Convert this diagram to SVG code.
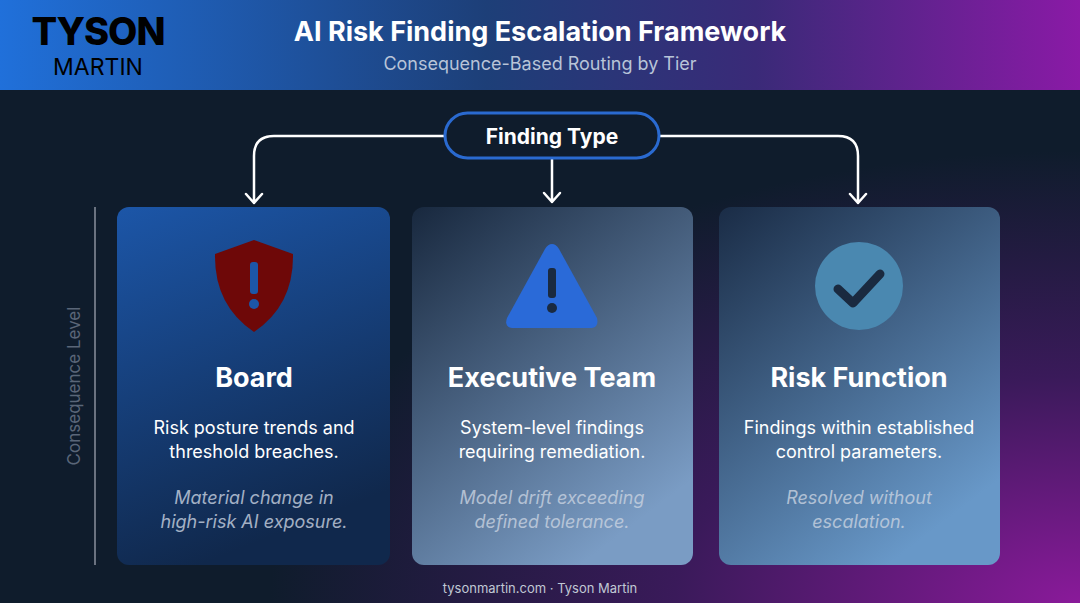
<svg xmlns="http://www.w3.org/2000/svg" width="1080" height="603" viewBox="0 0 1080 603">
<defs>
<linearGradient id="hdr" x1="0" y1="0" x2="1" y2="0"><stop offset="0" stop-color="#2070da"/><stop offset="0.45" stop-color="#1d3f78"/><stop offset="0.7" stop-color="#3a2a78"/><stop offset="1" stop-color="#8a1aa6"/></linearGradient>
<radialGradient id="bg" cx="1" cy="1" r="0.75"><stop offset="0" stop-color="#8a1a9a"/><stop offset="0.5" stop-color="#3a1a5a"/><stop offset="1" stop-color="#0f1c2c"/></radialGradient>
<linearGradient id="c1" x1="0" y1="0" x2="0.3" y2="1"><stop offset="0" stop-color="#1c56a8"/><stop offset="1" stop-color="#10284c"/></linearGradient>
<linearGradient id="c2" x1="0" y1="0" x2="0.6" y2="1"><stop offset="0" stop-color="#18283e"/><stop offset="1" stop-color="#7a9cc4"/></linearGradient>
<linearGradient id="c3" x1="0" y1="0" x2="0.6" y2="1"><stop offset="0" stop-color="#1a2c46"/><stop offset="1" stop-color="#6898c8"/></linearGradient>
</defs>
<style>
.t{font-family:Inter,"Noto Sans",sans-serif;fill:#fff;text-anchor:middle}
.h{font-size:27px;font-weight:700}
.b{font-size:18px}
.i{font-size:18px;font-style:italic;fill:#c8d2e0;opacity:.8}
.cn{fill:none;stroke:#fff;stroke-width:2.5;stroke-linecap:round;stroke-linejoin:round}
</style>
<rect width="1080" height="603" fill="#0f1c2c"/>
<rect width="1080" height="603" fill="url(#bg)"/>
<rect width="1080" height="90" fill="url(#hdr)"/>
<g id="logo"><text x="98" y="45" class="t" style="fill:#000;font-size:38px;font-weight:800;letter-spacing:-1px">TYSON</text><text x="98" y="75" class="t" style="fill:#000;font-size:23px">MARTIN</text></g>
<text x="540" y="41" class="t" style="font-size:27px;font-weight:700">AI Risk Finding Escalation Framework</text>
<text x="540" y="70" class="t" style="font-size:18px;fill:#b8c4d8">Consequence-Based Routing by Tier</text>
<line x1="95" y1="207" x2="95" y2="565" stroke="#6a7280" stroke-width="2"/>
<text transform="translate(80,386) rotate(-90)" class="t" style="font-size:17px;fill:#5a6678">Consequence Level</text>
<g id="connectors">
<path class="cn" d="M444 136 H274 Q254 136 254 156 V203 M246 194 L254 203 L262 194"/>
<path class="cn" d="M552 158 V202 M544 193 L552 202 L560 193"/>
<path class="cn" d="M659 136 H838 Q858 136 858 156 V203 M850 194 L858 203 L866 194"/>
</g>
<g id="finding-type"><rect x="445" y="113" width="214" height="45" rx="22.5" fill="#0f1c2c" stroke="#2a6ad0" stroke-width="3"/><text x="552" y="144" class="t" style="font-size:21px;font-weight:700">Finding Type</text></g>
<g id="board">
<rect x="117" y="207" width="273" height="358" rx="12" fill="url(#c1)"/>
<path d="M254 240 L293 254 Q294 305 254 332 Q214 305 215 254 Z" fill="#6e0808"/>
<rect x="250" y="262" width="8" height="32" rx="3" fill="#1c56a8"/><circle cx="254" cy="304" r="5" fill="#1c56a8"/>
<text x="254" y="387" class="t h">Board</text>
<text x="254" y="434" class="t b">Risk posture trends and</text><text x="254" y="458" class="t b">threshold breaches.</text>
<text x="254" y="504" class="t i">Material change in</text><text x="254" y="528" class="t i">high-risk AI exposure.</text>
</g>
<g id="executive">
<rect x="412" y="207" width="281" height="358" rx="12" fill="url(#c2)"/>
<path d="M552 244 Q556 244 559 249 L597 318 Q599 327 592 328 H512 Q504 327 507 318 L545 249 Q548 244 552 244 Z" fill="#2a6ad8"/>
<rect x="548" y="268" width="8" height="30" rx="3" fill="#1a2a40"/><circle cx="552" cy="308" r="5" fill="#1a2a40"/>
<text x="552" y="387" class="t h">Executive Team</text>
<text x="552" y="434" class="t b">System-level findings</text><text x="552" y="458" class="t b">requiring remediation.</text>
<text x="552" y="504" class="t i">Model drift exceeding</text><text x="552" y="528" class="t i">defined tolerance.</text>
</g>
<g id="risk">
<rect x="719" y="207" width="281" height="358" rx="12" fill="url(#c3)"/>
<circle cx="859" cy="286" r="44" fill="#4a88b0"/>
<path d="M838 289 L853 303 L880 274" fill="none" stroke="#1a2a40" stroke-width="9" stroke-linecap="round" stroke-linejoin="round"/>
<text x="859" y="387" class="t h">Risk Function</text>
<text x="859" y="434" class="t b">Findings within established</text><text x="859" y="458" class="t b">control parameters.</text>
<text x="859" y="504" class="t i">Resolved without</text><text x="859" y="528" class="t i">escalation.</text>
</g>
<text x="540" y="593" class="t" style="font-size:13px;fill:#c0c8d4">tysonmartin.com · Tyson Martin</text>
</svg>
